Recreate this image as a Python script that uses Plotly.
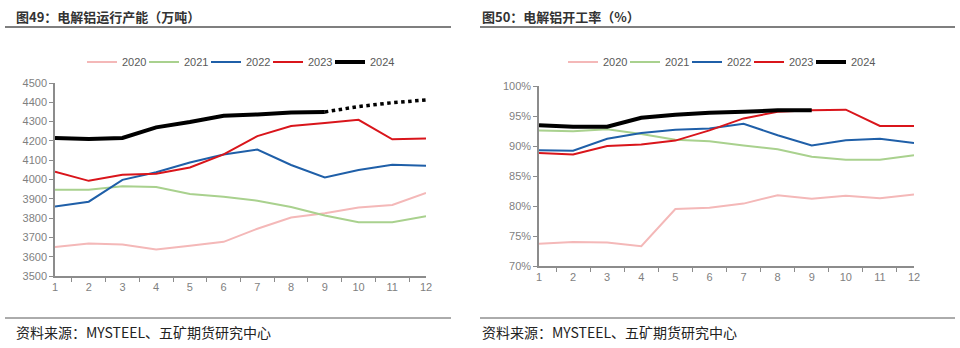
import plotly.graph_objects as go

months = [str(m) for m in range(1, 13)]

# Left: 电解铝运行产能（万吨）
cap_2020 = [3650, 3668, 3663, 3637, 3657, 3677, 3745, 3803, 3825, 3855, 3868, 3930]
cap_2021 = [3947, 3947, 3965, 3961, 3925, 3911, 3890, 3858, 3813, 3779, 3779, 3810]
cap_2022 = [3860, 3885, 3998, 4038, 4088, 4130, 4155, 4075, 4011, 4049, 4076, 4071]
cap_2023 = [4040, 3993, 4025, 4030, 4062, 4130, 4225, 4277, 4293, 4309, 4208, 4212]
cap_2024 = [4215, 4210, 4215, 4270, 4298, 4330, 4337, 4347, 4350]
cap_2024_fc = [None] * 8 + [4350, 4378, 4398, 4412]

# Right: 电解铝开工率（%）
rate_2020 = [73.7, 74.0, 73.9, 73.3, 79.5, 79.7, 80.4, 81.8, 81.2, 81.7, 81.3, 81.9]
rate_2021 = [92.6, 92.45, 92.8, 92.0, 91.05, 90.8, 90.1, 89.45, 88.2, 87.7, 87.7, 88.45]
rate_2022 = [89.3, 89.2, 91.2, 92.15, 92.7, 92.9, 93.7, 91.8, 90.1, 90.95, 91.2, 90.5]
rate_2023 = [88.85, 88.6, 90.0, 90.25, 90.9, 92.6, 94.6, 95.7, 95.95, 96.05, 93.35, 93.35]
rate_2024 = [93.45, 93.2, 93.2, 94.7, 95.2, 95.55, 95.7, 95.95, 95.95]

colors = {"2020": "#F4B8B8", "2021": "#A9D18E", "2022": "#1F5FA8",
          "2023": "#D9151B", "2024": "#000000"}
widths = {"2020": 2, "2021": 2, "2022": 2, "2023": 2, "2024": 4}

fig = go.Figure()

left = {"2020": cap_2020, "2021": cap_2021, "2022": cap_2022, "2023": cap_2023, "2024": cap_2024}
right = {"2020": rate_2020, "2021": rate_2021, "2022": rate_2022, "2023": rate_2023, "2024": rate_2024}

for y, vals in left.items():
    fig.add_trace(go.Scatter(x=months[:len(vals)], y=vals, name=y, mode="lines",
                             line=dict(color=colors[y], width=widths[y]),
                             xaxis="x", yaxis="y", legend="legend"))
fig.add_trace(go.Scatter(x=months, y=cap_2024_fc, mode="lines", showlegend=False,
                         line=dict(color="#000000", width=3.5, dash="dot"),
                         xaxis="x", yaxis="y"))
# spacer entry so the last legend label is not clipped
fig.add_trace(go.Scatter(x=[None], y=[None], name=" ", mode="lines", line=dict(width=0),
                         xaxis="x", yaxis="y", legend="legend", hoverinfo="skip"))

for y, vals in right.items():
    fig.add_trace(go.Scatter(x=months[:len(vals)], y=[v / 100 for v in vals], name=y, mode="lines",
                             line=dict(color=colors[y], width=widths[y]),
                             xaxis="x2", yaxis="y2", legend="legend2"))
fig.add_trace(go.Scatter(x=[None], y=[None], name=" ", mode="lines", line=dict(width=0),
                         xaxis="x2", yaxis="y2", legend="legend2", hoverinfo="skip"))

W, H = 960, 348
def px(x): return x / W
def py(y): return 1 - y / H

axis_common = dict(showline=True, linecolor="#8c8c8c", linewidth=1.5, ticks="outside",
                   tickcolor="#8c8c8c", ticklen=4, showgrid=False, zeroline=False,
                   tickfont=dict(family="Liberation Sans, Arial", size=11, color="#7f7f7f"))

legend_font = dict(family="Liberation Sans, Arial", size=11, color="#595959")

fig.update_layout(
    width=W, height=H, margin=dict(l=0, r=0, t=0, b=0, autoexpand=False),
    paper_bgcolor="white", plot_bgcolor="white",
    xaxis=dict(domain=[px(55), px(426)], type="category", tickson="boundaries", anchor="y", **axis_common),
    yaxis=dict(domain=[py(276), py(83)], range=[3500, 4500], dtick=100, anchor="x", **axis_common),
    xaxis2=dict(domain=[px(539), px(914)], type="category", tickson="boundaries", anchor="y2", **axis_common),
    yaxis2=dict(domain=[py(266), py(86)], range=[0.70, 1.00], dtick=0.05, tickformat=".0%", anchor="x2", **axis_common),
    legend=dict(orientation="h", x=px(82), y=py(62), xanchor="left", yanchor="middle",
                entrywidth=17, entrywidthmode="pixels", itemwidth=30,
                font=legend_font, bgcolor="rgba(0,0,0,0)"),
    legend2=dict(orientation="h", x=px(563), y=py(62), xanchor="left", yanchor="middle",
                 entrywidth=17, entrywidthmode="pixels", itemwidth=30,
                 font=legend_font, bgcolor="rgba(0,0,0,0)"),
    showlegend=True,
)

# Title rules and footer rules
for x0, x1 in [(5, 451), (480, 955)]:
    fig.add_shape(type="line", xref="paper", yref="paper", x0=px(x0), x1=px(x1), y0=py(27), y1=py(27),
                  line=dict(color="#7f7f7f", width=2))
    fig.add_shape(type="line", xref="paper", yref="paper", x0=px(x0), x1=px(x1), y0=py(318), y1=py(318),
                  line=dict(color="#595959", width=1))

title_font = dict(family="Noto Sans CJK SC", size=13, color="#333333", weight="bold")
fig.add_annotation(text="图49：电解铝运行产能（万吨）", xref="paper", yref="paper", x=px(14), y=py(17),
                   xanchor="left", yanchor="middle", showarrow=False, font=title_font)
fig.add_annotation(text="图50：电解铝开工率（%）", xref="paper", yref="paper", x=px(480), y=py(17),
                   xanchor="left", yanchor="middle", showarrow=False, font=title_font)
src_font = dict(family="Noto Sans CJK SC", size=14, color="#222222")
fig.add_annotation(text="资料来源：MYSTEEL、五矿期货研究中心", xref="paper", yref="paper", x=px(14), y=py(332),
                   xanchor="left", yanchor="middle", showarrow=False, font=src_font)
fig.add_annotation(text="资料来源：MYSTEEL、五矿期货研究中心", xref="paper", yref="paper", x=px(480), y=py(332),
                   xanchor="left", yanchor="middle", showarrow=False, font=src_font)

fig.write_html("out.html")
